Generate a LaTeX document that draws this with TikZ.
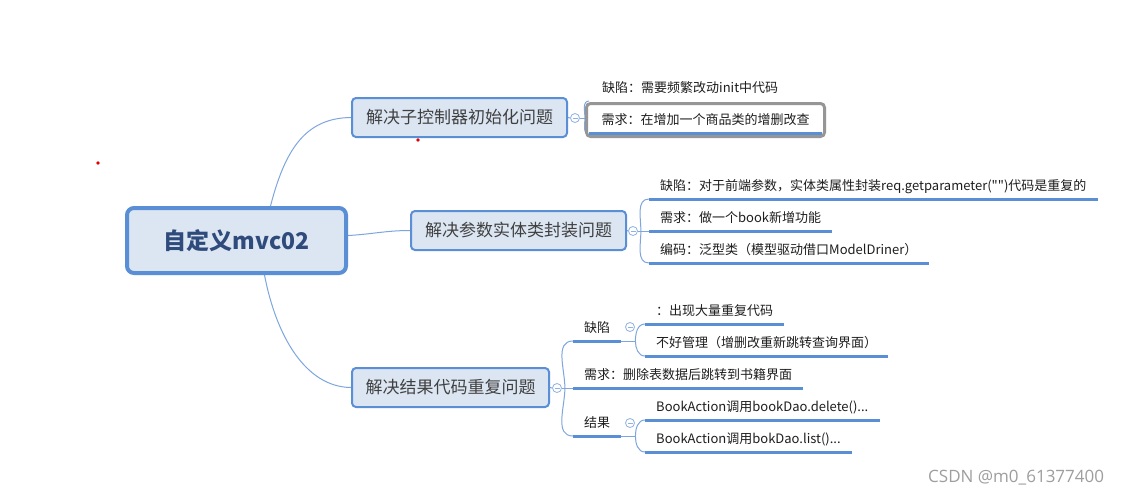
\documentclass[tikz,border=0pt]{standalone}
\usepackage{fontspec}
\setmainfont{Noto Sans CJK SC}[Ligatures=TeXOff]
\newfontfamily\wmfont{Open Sans}
\usetikzlibrary{backgrounds}
\definecolor{boxfill}{HTML}{DCE6F2}
\definecolor{boxline}{HTML}{5B8FD5}
\definecolor{connc}{HTML}{7EA6DE}
\definecolor{ulc}{HTML}{5B8FD5}
\definecolor{roottext}{HTML}{2F4B7C}
\definecolor{selgray}{HTML}{969696}
\definecolor{circc}{HTML}{8FB2E2}
\definecolor{txt}{HTML}{1E1E1E}
\begin{document}
\begin{tikzpicture}[x=1pt,y=-1pt,
  rootbox/.style={draw=boxline, fill=boxfill, line width=4pt, rounded corners=7pt, minimum width=219pt, minimum height=65pt, inner sep=0pt, font=\fontsize{23}{26}\selectfont\bfseries, text=roottext},
  branchbox/.style={draw=boxline, fill=boxfill, line width=2pt, rounded corners=4pt, minimum height=39pt, inner sep=0pt, font=\fontsize{17}{20}\selectfont, text=txt!85},
  leaf/.style={anchor=south west, inner xsep=11pt, inner ysep=4.5pt, text height=10pt, text depth=3.5pt, font=\fontsize{13}{15}\selectfont, text=txt},
  conn/.style={draw=connc, line width=1pt},
  uline/.style={draw=ulc, line width=3pt},
  collapse/.style={circle, draw=circc, fill=white, line width=0.8pt, minimum size=9pt, inner sep=0pt},
  selbox/.style={draw=selgray, line width=3pt, fill=white, rounded corners=4pt, minimum width=238pt, minimum height=33pt, inner sep=0pt, font=\fontsize{13}{15}\selectfont, text=txt}
]
\useasboundingbox (0,0) rectangle (1140,499);

% root and branches
\node[rootbox] (root) at (236.5,240.5) {自定义mvc02};
\node[branchbox, minimum width=215pt] (b1) at (459.5,117.5) {解决子控制器初始化问题};
\node[branchbox, minimum width=215pt] (b2) at (518.5,230.5) {解决参数实体类封装问题};
\node[branchbox, minimum width=197pt] (b3) at (450.5,387.5) {解决结果代码重复问题};

% collapse markers
\node[collapse] (b1c) at (575,118) {};
\node[collapse] (b2c) at (633,231) {};
\node[collapse] (b3c) at (557,388) {};
\node[collapse] (k1c) at (630,327) {};
\node[collapse] (k3c) at (630,423) {};
\foreach \c in {b1c,b2c,b3c,k1c,k3c}
  \draw[circc, line width=0.8pt] ([xshift=-2.5pt]\c.center) -- ([xshift=2.5pt]\c.center);

% branch 1 children
\node[leaf, anchor=west, inner ysep=0pt] (a1) at (591,89) {缺陷：需要频繁改动init中代码};
\coordinate (a1u) at (589,101);
\coordinate (a2u) at (589,134);
\node[selbox] (a2) at (705.5,120) {需求：在增加一个商品类的增删改查};
\draw[uline] ([xshift=4pt,yshift=4.5pt]a2.south west) -- ([xshift=-4pt,yshift=4.5pt]a2.south east);

% branch 2 children
\node[leaf] (p1) at (649,199) {缺陷：对于前端参数，实体类属性封装req.getparameter("")代码是重复的};
\node[leaf] (p2) at (649,231) {需求：做一个book新增功能};
\node[leaf] (p3) at (649,263) {编码：泛型类（模型驱动借口ModelDriner）};

% branch 3 children
\node[leaf] (k1) at (573,341) {缺陷};
\node[leaf] (k11) at (645,324) {：出现大量重复代码};
\node[leaf] (k12) at (645,356) {不好管理（增删改重新跳转查询界面）};
\node[leaf] (k2) at (573,388) {需求：删除表数据后跳转到书籍界面};
\node[leaf] (k3) at (573,436) {结果};
\node[leaf] (k31) at (645,420) {BookAction调用bookDao.delete()...};
\node[leaf] (k32) at (645,452) {BookAction调用bokDao.list()...};

\foreach \n in {p1,p2,p3,k1,k11,k12,k2,k3,k31,k32}
  \draw[uline] (\n.south west) -- (\n.south east);

% connectors (behind)
\begin{scope}[on background layer]
  \fill[white] (0,0) rectangle (1140,499);
  \draw[conn] ([xshift=34pt]root.north) .. controls (285,150) and (305,118) .. (b1.west);
  \draw[conn] ([yshift=5pt]root.east) to[out=3,in=180] (b2.west);
  \draw[conn] ([xshift=28pt]root.south) .. controls (276,335) and (305,387) .. (b3.west);

  \draw[conn] (b1.east) -- (b1c.west);
  \draw[conn] (b1c.east) -- ++(5pt,0) coordinate (b1j);
  \draw[conn] (b1j) to[out=90,in=180] (a1u);
  \draw[conn] (b1j) to[out=-90,in=180] (a2u);

  \draw[conn] (b2.east) -- (b2c.west);
  \draw[conn] (b2c.east) -- ++(3pt,0) coordinate (b2j);
  \draw[conn] (b2j) to[out=90,in=180] (p1.south west);
  \draw[conn] (b2j) -- (p2.south west);
  \draw[conn] (b2j) to[out=-90,in=180] (p3.south west);

  \draw[conn] (b3.east) -- (b3c.west);
  \draw[conn] (b3c.east) -- ++(3pt,0) coordinate (b3j);
  \draw[conn] (b3j) to[out=90,in=180] (k1.south west);
  \draw[conn] (b3j) -- (k2.south west);
  \draw[conn] (b3j) to[out=-90,in=180] (k3.south west);

  \draw[conn] (k1.south east) -- ++(14pt,0) coordinate (k1j);
  \draw[conn] (k1j) to[out=90,in=180] (k11.south west);
  \draw[conn] (k1j) to[out=-90,in=180] (k12.south west);

  \draw[conn] (k3.south east) -- ++(14pt,0) coordinate (k3j);
  \draw[conn] (k3j) to[out=90,in=180] (k31.south west);
  \draw[conn] (k3j) to[out=-90,in=180] (k32.south west);
\end{scope}

% stray red dots
\fill[red!90!black] (98,163) circle (1.8pt);
\fill[red!90!black] (418,140) circle (1.8pt);

% watermark
\node[anchor=west, inner sep=0pt, font=\wmfont\fontsize{17}{20}\selectfont, text=black!38] (wm) at (928,478) {CSDN @m0\_61377400};
\end{tikzpicture}
\end{document}
